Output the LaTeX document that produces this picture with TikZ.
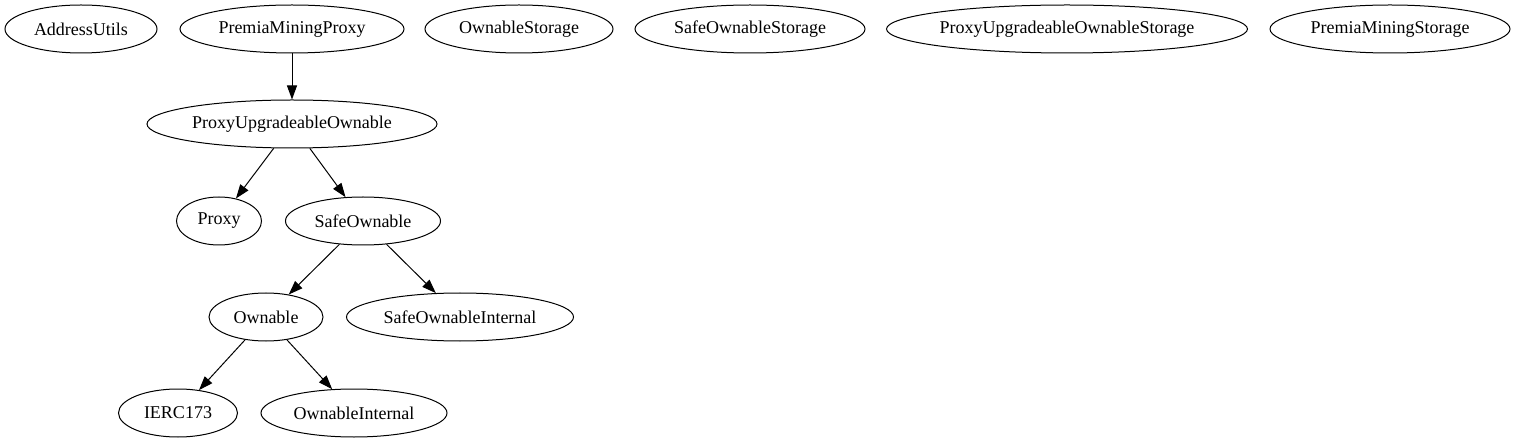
\documentclass[tikz,border=0pt]{standalone}
\usepackage{fontspec}
\setmainfont{Liberation Serif}
\usetikzlibrary{shapes.geometric,arrows.meta}
\newcommand{\edgecol}{black}

\begin{document}
\begin{tikzpicture}[x=1pt, y=-1pt,
    contract/.style={draw, ellipse, line width=1pt, inner sep=0pt,
                     minimum width=#1, minimum height=48pt, font=\fontsize{18}{20}\selectfont},
    inherits/.style={draw=\edgecol, line width=1pt, -{Triangle[length=14pt,width=10pt]}}]

    \useasboundingbox (0, 0) rectangle (1514, 443);

    \node[contract=152pt] (addrutils) at (81, 29) {AddressUtils};
    \node[contract=224pt] (miningproxy) at (292, 29) {PremiaMiningProxy};
    \node[contract=188pt] (ownstorage) at (519, 29) {OwnableStorage};
    \node[contract=230pt] (safestorage) at (750, 29) {SafeOwnableStorage};
    \node[contract=361pt] (puostorage) at (1067, 29) {ProxyUpgradeableOwnableStorage};
    \node[contract=240pt] (miningstorage) at (1390, 29) {PremiaMiningStorage};

    \node[contract=290pt] (puo) at (292, 124) {ProxyUpgradeableOwnable};

    \node[contract=85pt] (proxy) at (219, 221) {Proxy};
    \node[contract=155pt] (safeown) at (363, 221) {SafeOwnable};

    \node[contract=114pt] (own) at (266, 317) {Ownable};
    \node[contract=227pt] (safeint) at (460, 317) {SafeOwnableInternal};

    \node[contract=119pt] (ierc) at (178, 413) {IERC173};
    \node[contract=186pt] (ownint) at (354, 413) {OwnableInternal};

    \draw[inherits] (miningproxy) -- (puo);
    \draw[inherits] (puo) -- (proxy);
    \draw[inherits] (puo) -- (safeown);
    \draw[inherits] (safeown) -- (own);
    \draw[inherits] (safeown) -- (safeint);
    \draw[inherits] (own) -- (ierc);
    \draw[inherits] (own) -- (ownint);
  \end{tikzpicture}
\end{document}
